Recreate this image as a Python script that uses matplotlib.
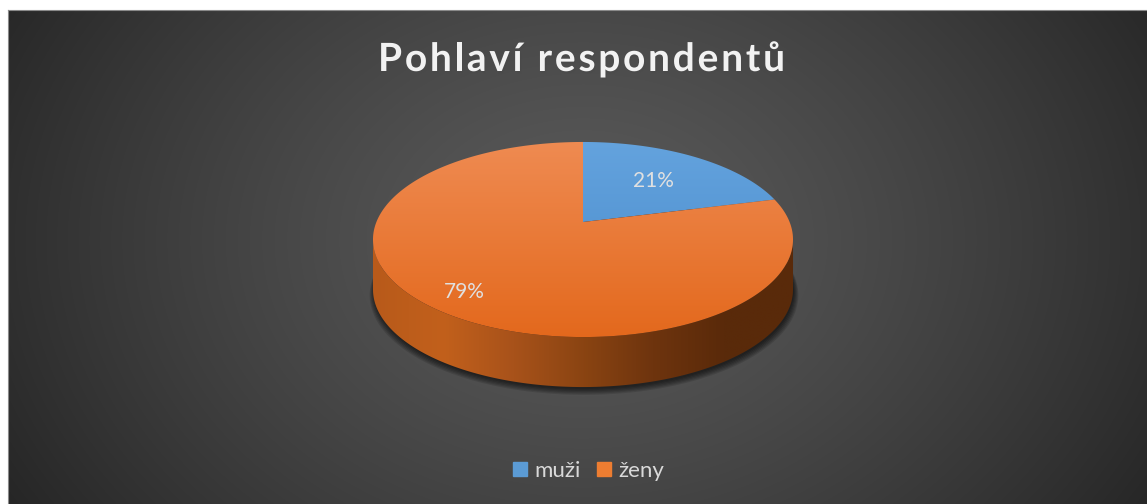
import numpy as np
import matplotlib
matplotlib.use("Agg")
import matplotlib.pyplot as plt
from matplotlib.patches import Polygon
from matplotlib.colors import LinearSegmentedColormap
import matplotlib.patheffects as pe

# ---- data ----
labels = ["muži", "ženy"]
shares = [21, 79]
title = "Pohlaví respondentů"

# ---- style ----
top_cols = [("#64a3de", "#4689c9"), ("#ef8b52", "#e3681c")]
legend_cols = ["#5b9bd5", "#ed7d31"]
W, H = 1147, 504
cx, cy = 583, 222          # projected pie centre
A, B, K = 206.6, 94.4, 0.1795   # radii + perspective factor
depth = 50
label_r = [0.6, 0.83]
FONT = "Lato"

fig = plt.figure(figsize=(W / 100, H / 100), dpi=100, facecolor="white")
ax = fig.add_axes([0, 0, 1, 1])
ax.set_xlim(0, W); ax.set_ylim(H, 0); ax.axis("off")

# background: radial grey gradient, white strip top/left
yy, xx = np.mgrid[10:H, 8:W]
r = np.sqrt(((xx - 583) / 650.0) ** 2 + ((yy - 240) / 500.0) ** 2)
g = (90 - 50 * np.clip(r, 0, 1.1) ** 1.3) / 255.0
ax.imshow(np.dstack([g, g, g]), extent=[8, W, H, 10], zorder=0, aspect="auto")
ax.plot([8, W], [10, 10], color="#8a8a8a", lw=0.8, zorder=1)
ax.plot([8, 8], [10, H], color="#8a8a8a", lw=0.8, zorder=1)

def pt(t, rad=1.0, dy=0.0):
    # angle t clockwise from 12 o'clock, simple perspective on the disc
    u, v = rad * np.sin(t), -rad * np.cos(t)
    d = 1 - K * v
    return cx + A * u / d, cy + B * v / d + dy

def grad_fill(poly, colors, horizontal, ext, z):
    cmap = LinearSegmentedColormap.from_list("g", colors)
    arr = np.linspace(0, 1, 256)
    img = arr[None, :] if horizontal else arr[:, None]
    im = ax.imshow(img, cmap=cmap, extent=ext, aspect="auto", zorder=z,
                   interpolation="bilinear")
    patch = Polygon(poly, closed=True, fc="none", ec="none", transform=ax.transData)
    ax.add_patch(patch)
    im.set_clip_path(patch)

# tight soft shadow under the pie
t = np.linspace(0, 2 * np.pi, 300)
for k in range(6):
    xs, ys = pt(t, 1.0 + 0.004 * k, depth + 2 + 0.6 * k)
    ax.fill(xs + 1, ys, color="black", alpha=0.12, lw=0, zorder=1)

# side wall (front half, all in the larger slice)
t0 = np.arccos(-K)
t = np.linspace(t0, 2 * np.pi - t0, 300)
x1, y1 = pt(t)
x2, y2 = pt(t[::-1], dy=depth)
side = np.column_stack([np.r_[x1, x2], np.r_[y1, y2]])
xl, xr = x1.min(), x1.max()
grad_fill(side, ["#b85a1a", "#c2601c", "#a8521a", "#8a4412", "#6e340e",
                 "#5a2a0a", "#592a0a"], True,
          [xl, xr, cy + 130 + depth, cy - 10], 2)

# top face slices (clockwise from 12 o'clock)
total = float(sum(shares))
start = 0.0
for i, v in enumerate(shares):
    end = start + 2 * np.pi * v / total
    t = np.linspace(start, end, 300)
    xs, ys = pt(t)
    poly = np.column_stack([np.r_[cx, xs], np.r_[cy, ys]])
    grad_fill(poly, list(top_cols[i]), False, [xl, xr, 340, 140], 3)
    mid = (start + end) / 2
    lx, ly = pt(mid, label_r[i])
    ax.text(lx, ly, f"{v}%", ha="center", va="center", fontsize=15,
            color="#e0e0e0", family=FONT, zorder=5)
    start = end

# title with letter spacing
r_ = fig.canvas.get_renderer()
tsize = 28
widths = []
for ch in title:
    if ch == " ":
        widths.append(tsize * 100 / 72 * 0.25)
        continue
    tt = ax.text(0, 0, ch, fontsize=tsize, fontweight="bold", family=FONT)
    widths.append(tt.get_window_extent(r_).width)
    tt.remove()
span = 407
gap = (span - sum(widths)) / (len(title) - 1)
x = 378
for ch, w in zip(title, widths):
    if ch != " ":
        ax.text(x, 71, ch, fontsize=tsize, fontweight="bold", family=FONT,
                color="#f2f2f2", ha="left", va="baseline", zorder=5,
                path_effects=[pe.withSimplePatchShadow(offset=(1, -1.5), alpha=0.35)])
    x += w + gap

# legend
handles = [plt.Line2D([], [], ls="", marker="s", ms=10, mfc=c, mec=c) for c in legend_cols]
leg = ax.legend(handles, labels, loc="center", bbox_to_anchor=(587 / W, 1 - 471 / H),
                ncol=2, frameon=False, handletextpad=0.2,
                columnspacing=0.6, handlelength=0.9,
                prop={"family": FONT, "size": 16})
for txt in leg.get_texts():
    txt.set_color("#d9d9d9")

fig.savefig("out.png", dpi=100, facecolor="white")
